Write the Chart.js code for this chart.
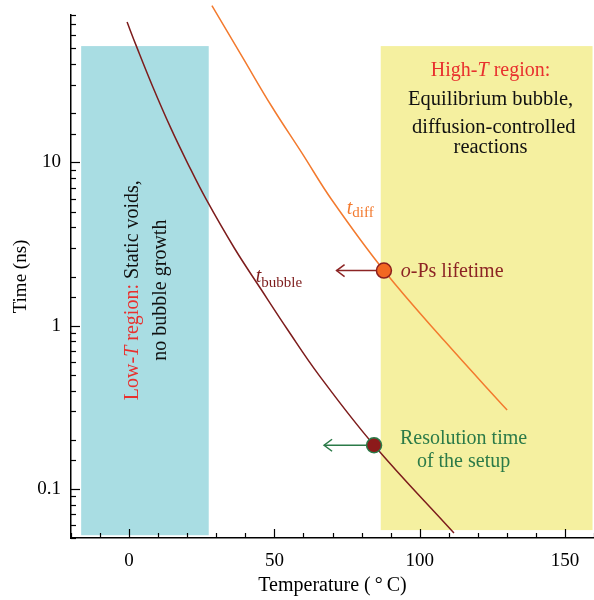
<!DOCTYPE html>
<html><head><meta charset="utf-8">
<script src="https://cdn.jsdelivr.net/npm/chart.js@4.4.1/dist/chart.umd.min.js"></script>
<style>html,body{margin:0;padding:0;background:#fff}#wrap{width:594px;height:600px;position:relative}</style>
</head><body><div id="wrap"><canvas id="c" width="594" height="600"></canvas></div>
<script>
// ---- data ----
const tempBubble = [-0.7, 2.4, 8.1, 14.4, 20.2, 26.5, 36.2, 45.4, 54.5, 65.4, 84.3, 111.8];
const timeBubble = [72.4, 52.1, 29.2, 16.15, 9.84, 5.95, 2.99, 1.67, 0.947, 0.496, 0.185, 0.0536];
const tempDiff = [28.5, 38.8, 49.1, 59.5, 69.8, 87.7, 108.9, 130.1];
const timeDiff = [91.2, 44.8, 22.0, 11.4, 5.88, 2.175, 0.793, 0.304];
const markerTemps = [87.7, 84.3];      // o-Ps lifetime, resolution time
const markerTimes = [2.175, 0.185];
const arrowTipTemps = [71.4, 67.1];
const lowRegionT = [-16.5, 27.4];
const lowRegionTime = [0.052, 51.6];
const highRegionT = [86.6, 159.5];
const highRegionTime = [0.0559, 51.6];
const xTickLabels = [0, 50, 100, 150];
const yTickLabels = [0.1, 1, 10];

const SERIF = '"Liberation Serif", "DejaVu Serif", serif';
const C_BUB = '#7d1c1c', C_DIFF = '#f37a2e', C_RED = '#e8302e', C_GREEN = '#2b7a48', C_DARK = '#8c2424';

const pts = (xs, ys) => xs.map((x, i) => ({x, y: ys[i]}));

function runs(ctx, parts, x, y, align) {
  let w = 0;
  parts.forEach(p => { ctx.font = p.font; w += ctx.measureText(p.text).width; });
  let cx = align === 'center' ? x - w / 2 : x;
  parts.forEach(p => {
    ctx.font = p.font; ctx.fillStyle = p.color; ctx.textBaseline = 'alphabetic'; ctx.textAlign = 'left';
    ctx.fillText(p.text, cx, y + (p.dy || 0));
    cx += ctx.measureText(p.text).width;
  });
}

const deco = {
  id: 'deco',
  beforeDatasetsDraw(chart) {
    const {ctx} = chart, xs = chart.scales.x, ys = chart.scales.y;
    ctx.save();
    ctx.fillStyle = '#a9dde3';
    let x0 = xs.getPixelForValue(lowRegionT[0]), x1 = xs.getPixelForValue(lowRegionT[1]);
    let y0 = ys.getPixelForValue(lowRegionTime[1]), y1 = ys.getPixelForValue(lowRegionTime[0]);
    ctx.fillRect(x0, y0, x1 - x0, y1 - y0);
    ctx.fillStyle = '#f5f0a0';
    x0 = xs.getPixelForValue(highRegionT[0]); x1 = xs.getPixelForValue(highRegionT[1]);
    y0 = ys.getPixelForValue(highRegionTime[1]); y1 = ys.getPixelForValue(highRegionTime[0]);
    ctx.fillRect(x0, y0, x1 - x0, y1 - y0);
    ctx.restore();
  },
  afterDatasetsDraw(chart) {
    const {ctx} = chart, xs = chart.scales.x, ys = chart.scales.y;
    const X = v => xs.getPixelForValue(v), Y = v => ys.getPixelForValue(v);
    ctx.save();
    const arrowCols = [C_DARK, C_GREEN];
    arrowTipTemps.forEach((t, i) => {
      const px = X(t), py = Y(markerTimes[i]);
      ctx.strokeStyle = arrowCols[i]; ctx.lineWidth = 1.5;
      ctx.beginPath(); ctx.moveTo(px + 8, py - 6); ctx.lineTo(px, py); ctx.lineTo(px + 8, py + 6); ctx.stroke();
    });
    const f = (s, it) => (it ? 'italic ' : '') + s + 'px ' + SERIF;
    runs(ctx, [{text: 'High-', font: f(20), color: C_RED}, {text: 'T', font: f(20, 1), color: C_RED}, {text: ' region:', font: f(20), color: C_RED}], X(124.4), Y(33.8), 'center');
    runs(ctx, [{text: 'Equilibrium bubble,', font: f(20.5), color: '#111'}], X(124.4), Y(22.5), 'center');
    runs(ctx, [{text: 'diffusion-controlled', font: f(20.5), color: '#111'}], X(125.5), Y(15.2), 'center');
    runs(ctx, [{text: 'reactions', font: f(20.5), color: '#111'}], X(124.4), Y(11.4), 'center');
    runs(ctx, [{text: 't', font: f(20, 1), color: C_BUB}, {text: 'bubble', font: f(15), color: C_BUB, dy: 5}], X(43.6), Y(1.85), 'left');
    runs(ctx, [{text: 't', font: f(20, 1), color: C_DIFF}, {text: 'diff', font: f(15), color: C_DIFF, dy: 3}], X(74.9), Y(4.83), 'left');
    runs(ctx, [{text: 'o', font: f(20, 1), color: C_DARK}, {text: '-Ps lifetime', font: f(20), color: C_DARK}], X(93.5), Y(1.99), 'left');
    runs(ctx, [{text: 'Resolution time', font: f(20), color: C_GREEN}], X(115.1), Y(0.188), 'center');
    runs(ctx, [{text: 'of the setup', font: f(20), color: C_GREEN}], X(115.1), Y(0.136), 'center');
    ctx.save();
    ctx.translate(X(3.0), Y(1.65)); ctx.rotate(-Math.PI / 2);
    runs(ctx, [{text: 'Low-', font: f(20), color: C_RED}, {text: 'T', font: f(20, 1), color: C_RED}, {text: ' region: ', font: f(20), color: C_RED}, {text: 'Static voids,', font: f(20), color: '#111'}], 0, 0, 'center');
    ctx.restore();
    ctx.save();
    ctx.translate(X(12.7), Y(1.65)); ctx.rotate(-Math.PI / 2);
    runs(ctx, [{text: 'no bubble growth', font: f(20), color: '#111'}], 0, 0, 'center');
    ctx.restore();
    ctx.restore();
  },
  afterDraw(chart) {
    const {ctx, chartArea: a} = chart, xs = chart.scales.x, ys = chart.scales.y;
    ctx.save();
    ctx.strokeStyle = '#000'; ctx.lineWidth = 1.2;
    xs.ticks.forEach(t => {
      const px = Math.round(xs.getPixelForValue(t.value)) + 0.5;
      const len = t.value % 50 === 0 ? 9 : 5;
      ctx.beginPath(); ctx.moveTo(px, a.bottom); ctx.lineTo(px, a.bottom - len); ctx.stroke();
    });
    ys.ticks.forEach(t => {
      const py = Math.round(ys.getPixelForValue(t.value)) + 0.5;
      const l = Math.log10(t.value);
      const len = Math.abs(l - Math.round(l)) < 1e-6 ? 9 : 5;
      ctx.beginPath(); ctx.moveTo(a.left, py); ctx.lineTo(a.left + len, py); ctx.stroke();
    });
    ctx.restore();
  }
};

const noPad = s => { s.paddingTop = 0; s.paddingBottom = 0; s.paddingLeft = 0; s.paddingRight = 0; };

new Chart(document.getElementById('c'), {
  data: {
    datasets: [
      {type: 'scatter', data: pts(markerTemps.slice(0, 1), markerTimes.slice(0, 1)), pointRadius: 7.5, backgroundColor: '#f26722', borderColor: '#8c1f1f', borderWidth: 1.5, order: 0},
      {type: 'scatter', data: pts(markerTemps.slice(1), markerTimes.slice(1)), pointRadius: 7.5, backgroundColor: '#8c1a1a', borderColor: C_GREEN, borderWidth: 1.5, order: 0},
      {type: 'line', data: [{x: markerTemps[0], y: markerTimes[0]}, {x: arrowTipTemps[0], y: markerTimes[0]}], borderColor: C_DARK, borderWidth: 1.5, pointRadius: 0, order: 1},
      {type: 'line', data: [{x: markerTemps[1], y: markerTimes[1]}, {x: arrowTipTemps[1], y: markerTimes[1]}], borderColor: C_GREEN, borderWidth: 1.5, pointRadius: 0, order: 1},
      {type: 'line', data: pts(tempBubble, timeBubble), borderColor: C_BUB, borderWidth: 1.5, pointRadius: 0, tension: 0.4, order: 2},
      {type: 'line', data: pts(tempDiff, timeDiff), borderColor: C_DIFF, borderWidth: 1.5, pointRadius: 0, tension: 0.4, clip: false, order: 2}
    ]
  },
  options: {
    responsive: false, animation: false, devicePixelRatio: 1,
    layout: {autoPadding: false, padding: {top: 15, right: 0, left: 0, bottom: 0}},
    plugins: {legend: {display: false}, tooltip: {enabled: false}},
    scales: {
      x: {
        type: 'linear', min: -20, max: 160,
        afterFit: s => { s.height = 62; noPad(s); },
        grid: {display: false, drawTicks: false},
        border: {display: true, color: '#000', width: 1.5},
        ticks: {stepSize: 10, autoSkip: false, maxRotation: 0, padding: 12, color: '#000', font: {family: SERIF, size: 19},
          callback: v => xTickLabels.includes(v) ? String(v) : ''},
        title: {display: true, text: 'Temperature (\u2009°\u2009C)', color: '#000', font: {family: SERIF, size: 20}, padding: {top: 0, bottom: 2}}
      },
      y: {
        type: 'logarithmic', min: 0.05, max: 80,
        afterFit: s => { s.width = 71; noPad(s); },
        grid: {display: false, drawTicks: false},
        border: {display: true, color: '#000', width: 1.5},
        ticks: {autoSkip: false, padding: 10, color: '#000', font: {family: SERIF, size: 19},
          callback: v => { const m = yTickLabels.find(t => Math.abs(Math.log10(v) - Math.log10(t)) < 1e-6); return m !== undefined ? String(m) : ''; }},
        title: {display: true, text: 'Time (ns)', color: '#000', font: {family: SERIF, size: 19}, padding: {top: 10, bottom: 0}}
      }
    }
  },
  plugins: [deco]
});
</script>
</body></html>
